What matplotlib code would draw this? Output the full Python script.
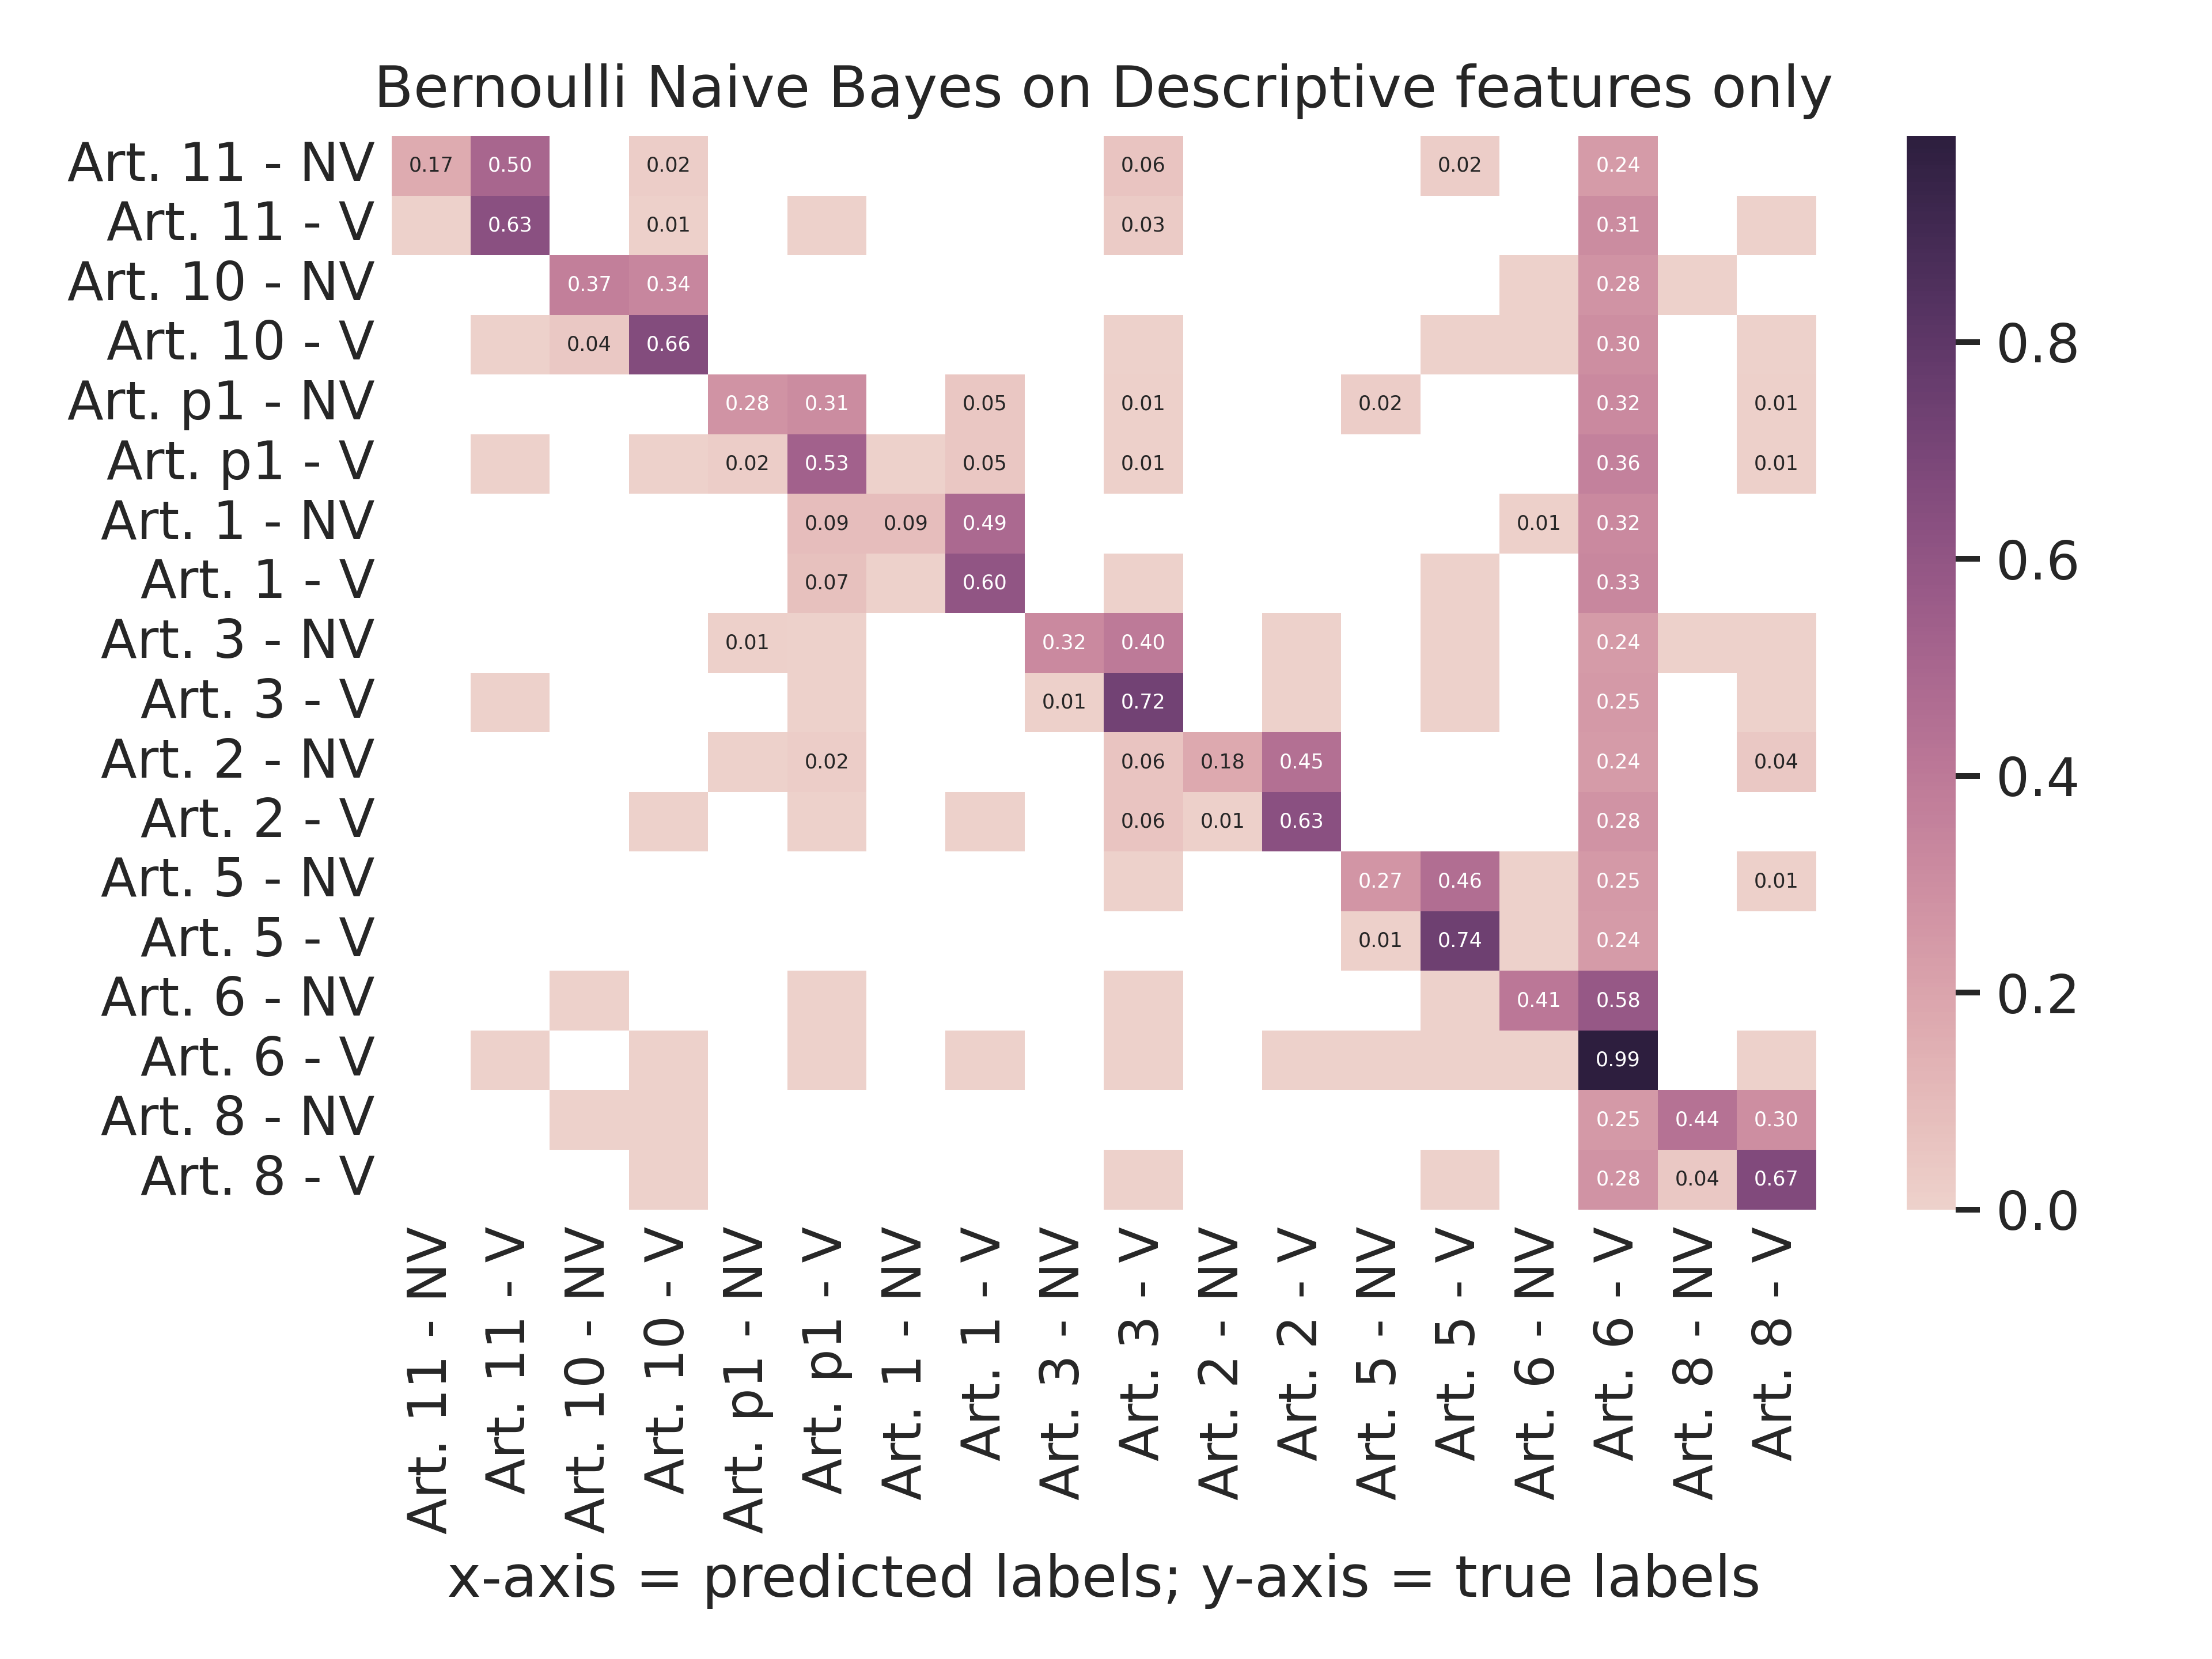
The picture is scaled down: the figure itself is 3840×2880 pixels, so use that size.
import numpy as np
import matplotlib
matplotlib.use("Agg")
import matplotlib.pyplot as plt
import seaborn as sns

labels = ["Art. 11 - NV", "Art. 11 - V", "Art. 10 - NV", "Art. 10 - V", "Art. p1 - NV", "Art. p1 - V",
          "Art. 1 - NV", "Art. 1 - V", "Art. 3 - NV", "Art. 3 - V", "Art. 2 - NV", "Art. 2 - V",
          "Art. 5 - NV", "Art. 5 - V", "Art. 6 - NV", "Art. 6 - V", "Art. 8 - NV", "Art. 8 - V"]

L = 0.003  # tiny values shown as coloured cells without label
cells = {
 0: {0: .17, 1: .50, 3: .02, 9: .06, 13: .02, 15: .24},
 1: {0: L, 1: .63, 3: .01, 5: L, 9: .03, 15: .31, 17: L},
 2: {2: .37, 3: .34, 14: L, 15: .28, 16: L},
 3: {1: L, 2: .04, 3: .66, 9: L, 13: L, 14: L, 15: .30, 17: L},
 4: {4: .28, 5: .31, 7: .05, 9: .01, 12: .02, 15: .32, 17: .01},
 5: {1: L, 3: L, 4: .02, 5: .53, 6: L, 7: .05, 9: .01, 15: .36, 17: .01},
 6: {5: .09, 6: .09, 7: .49, 14: .01, 15: .32},
 7: {5: .07, 6: L, 7: .60, 9: L, 13: L, 15: .33},
 8: {4: .01, 5: L, 8: .32, 9: .40, 11: L, 13: L, 15: .24, 16: L, 17: L},
 9: {1: L, 5: L, 8: .01, 9: .72, 11: L, 13: L, 15: .25, 17: L},
 10: {4: L, 5: .02, 9: .06, 10: .18, 11: .45, 15: .24, 17: .04},
 11: {3: L, 5: L, 7: L, 9: .06, 10: .01, 11: .63, 15: .28},
 12: {9: L, 12: .27, 13: .46, 14: L, 15: .25, 17: .01},
 13: {12: .01, 13: .74, 14: L, 15: .24},
 14: {2: L, 5: L, 9: L, 13: L, 14: .41, 15: .58},
 15: {1: L, 3: L, 5: L, 7: L, 9: L, 11: L, 12: L, 13: L, 14: L, 15: .99, 17: L},
 16: {2: L, 3: L, 15: .25, 16: .44, 17: .30},
 17: {3: L, 9: L, 13: L, 15: .28, 16: .04, 17: .67},
}

n = len(labels)
M = np.zeros((n, n))
for r, d in cells.items():
    for c, v in d.items():
        M[r, c] = v
annot = np.where(M >= 0.005, np.vectorize(lambda v: f"{v:.2f}")(M), "")

sns.set_style("white")
fig = plt.figure(figsize=(6.4, 4.8), dpi=600)
ax = fig.add_axes([0.177, 0.271, 0.644, 0.647])
cax = fig.add_axes([0.862, 0.271, 0.022, 0.647])
cmap = sns.cubehelix_palette(as_cmap=True)
sns.heatmap(M, mask=(M == 0), cmap=cmap, annot=annot, fmt="", annot_kws={"size": 4.2},
            xticklabels=labels, yticklabels=labels, ax=ax, cbar_ax=cax, vmin=0, vmax=0.99)
ax.tick_params(axis="both", labelsize=11, length=0)
plt.setp(ax.get_xticklabels(), rotation=90)
plt.setp(ax.get_yticklabels(), rotation=0)
ax.set_title("Bernoulli Naive Bayes on Descriptive features only", fontsize=12, color="#262626")
ax.set_xlabel("x-axis = predicted labels; y-axis = true labels", fontsize=12, color="#262626")
cax.tick_params(labelsize=11, length=5, width=1.2)
cax.set_yticks([0, 0.2, 0.4, 0.6, 0.8])
for t in ax.get_xticklabels() + ax.get_yticklabels() + cax.get_yticklabels():
    t.set_color("#262626")
fig.savefig("out.png", dpi=600)
